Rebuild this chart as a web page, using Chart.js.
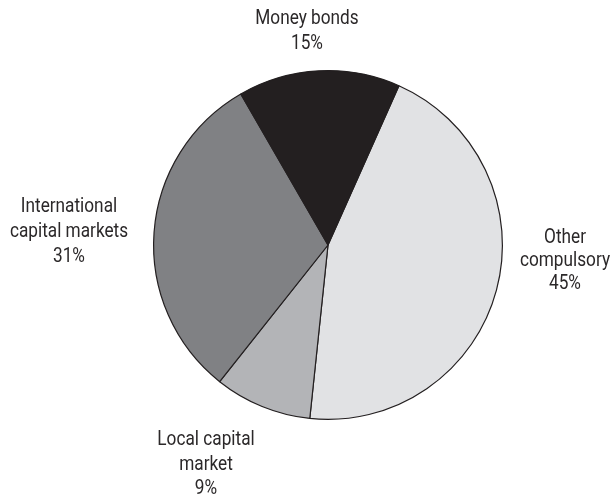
<!DOCTYPE html>
<html>
<head>
<meta charset="utf-8">
<script src="https://cdn.jsdelivr.net/npm/chart.js@4"></script>
<style>
  html, body { margin: 0; padding: 0; background: #ffffff; }
  #wrap { width: 614px; height: 500px; }
</style>
</head>
<body>
<div id="wrap"><canvas id="pie-chart" width="614" height="500"></canvas></div>
<script>
// Slice data, clockwise from the top-right
const categories = ['Other compulsory', 'Local capital market', 'International capital markets', 'Money bonds'];
const shares = [45, 9, 31, 15];
const labelLines = [
  ['Other', 'compulsory'],
  ['Local capital', 'market'],
  ['International', 'capital markets'],
  ['Money bonds']
];

const sliceColors = ['#e1e2e4', '#b3b4b7', '#808184', '#231f20'];
const inkColor = '#231f20';

// Where each label block sits (centre x, first baseline y) and its line pitch
const labelPlacement = [
  { x: 565, y: 243, pitch: 23 },
  { x: 206, y: 445, pitch: 24.5 },
  { x: 69, y: 212, pitch: 25 },
  { x: 307, y: 24, pitch: 25 }
];

// Condensed look: draw a regular face squeezed horizontally
const labelFont = '21px Roboto, "Liberation Sans", sans-serif';
const condense = 0.82;

// Draws the multi-line category labels with their percentages
const outsideLabels = {
  id: 'outsideLabels',
  afterDraw(chart) {
    const ctx = chart.ctx;
    const values = chart.data.datasets[0].data;
    values.forEach((v, i) => {
      const place = labelPlacement[i];
      const lines = [...labelLines[i], v + '%'];
      lines.forEach((line, j) => {
        ctx.save();
        ctx.translate(place.x, place.y + j * place.pitch);
        ctx.scale(condense, 1);
        ctx.fillStyle = '#2b2829';
        ctx.textAlign = 'center';
        ctx.textBaseline = 'alphabetic';
        ctx.font = labelFont;
        ctx.fillText(line, 0, 0);
        ctx.restore();
      });
    });
  }
};

const ctx = document.getElementById('pie-chart').getContext('2d');
const pieChart = new Chart(ctx, {
  type: 'pie',
  data: {
    labels: categories,
    datasets: [{
      data: shares,
      backgroundColor: sliceColors,
      borderColor: inkColor,
      borderWidth: 1.2
    }]
  },
  options: {
    responsive: false,
    animation: false,
    rotation: 24,
    layout: {
      padding: { top: 70, bottom: 80, left: 42, right: 0 }
    },
    plugins: {
      legend: { display: false },
      tooltip: { enabled: false }
    }
  },
  plugins: [outsideLabels]
});
</script>
</body>
</html>
